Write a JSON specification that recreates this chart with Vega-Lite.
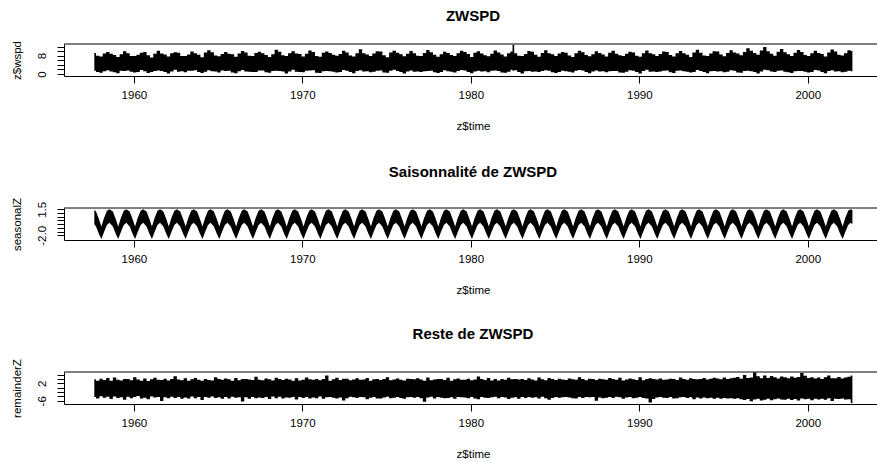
{
  "$schema": "https://vega.github.io/schema/vega-lite/v6.json",
  "padding": {"left": 10, "top": 8, "right": 0, "bottom": 0},
  "datasets": {
    "wspd": [
      {"t":1957.65,"lo":1.4,"hi":9.2},{"t":1957.85,"lo":0.9,"hi":8.0},{"t":1958.05,"lo":0.5,"hi":7.6},{"t":1958.25,"lo":1.2,"hi":8.9},{"t":1958.45,"lo":1.6,"hi":9.6},
      {"t":1958.65,"lo":1.1,"hi":8.8},{"t":1958.85,"lo":0.7,"hi":8.3},{"t":1959.05,"lo":0.3,"hi":7.4},{"t":1959.25,"lo":1.4,"hi":8.6},{"t":1959.45,"lo":1.3,"hi":9.9},
      {"t":1959.65,"lo":1.5,"hi":9.1},{"t":1959.85,"lo":1.0,"hi":7.9},{"t":1960.05,"lo":0.6,"hi":7.8},{"t":1960.25,"lo":0.9,"hi":8.4},{"t":1960.45,"lo":1.7,"hi":9.3},
      {"t":1960.65,"lo":1.2,"hi":9.6},{"t":1960.85,"lo":0.4,"hi":8.2},{"t":1961.05,"lo":0.8,"hi":7.2},{"t":1961.25,"lo":1.3,"hi":8.8},{"t":1961.45,"lo":1.5,"hi":10.2},
      {"t":1961.65,"lo":1.3,"hi":8.9},{"t":1961.85,"lo":0.9,"hi":8.5},{"t":1962.05,"lo":0.2,"hi":7.6},{"t":1962.25,"lo":1.1,"hi":9.1},{"t":1962.45,"lo":1.8,"hi":9.5},
      {"t":1962.65,"lo":1.0,"hi":9.3},{"t":1962.85,"lo":1.2,"hi":7.8},{"t":1963.05,"lo":0.7,"hi":7.9},{"t":1963.25,"lo":1.4,"hi":8.5},{"t":1963.45,"lo":1.4,"hi":9.8},
      {"t":1963.65,"lo":1.6,"hi":9.0},{"t":1963.85,"lo":0.8,"hi":8.4},{"t":1964.05,"lo":0.4,"hi":7.3},{"t":1964.25,"lo":1.0,"hi":9.4},{"t":1964.45,"lo":1.6,"hi":10.4},
      {"t":1964.65,"lo":1.2,"hi":9.5},{"t":1964.85,"lo":1.1,"hi":8.1},{"t":1965.05,"lo":0.6,"hi":7.7},{"t":1965.25,"lo":1.5,"hi":8.7},{"t":1965.45,"lo":1.3,"hi":9.6},
      {"t":1965.65,"lo":1.4,"hi":8.8},{"t":1965.85,"lo":0.6,"hi":8.6},{"t":1966.05,"lo":0.3,"hi":7.5},{"t":1966.25,"lo":1.2,"hi":8.9},{"t":1966.45,"lo":1.7,"hi":10.0},
      {"t":1966.65,"lo":1.1,"hi":9.4},{"t":1966.85,"lo":1.0,"hi":8.0},{"t":1967.05,"lo":0.8,"hi":7.8},{"t":1967.25,"lo":0.9,"hi":9.2},{"t":1967.45,"lo":1.5,"hi":9.7},
      {"t":1967.65,"lo":1.5,"hi":9.1},{"t":1967.85,"lo":0.7,"hi":8.3},{"t":1968.05,"lo":0.5,"hi":7.4},{"t":1968.25,"lo":1.3,"hi":8.6},{"t":1968.45,"lo":1.4,"hi":10.6},
      {"t":1968.65,"lo":1.3,"hi":9.7},{"t":1968.85,"lo":1.1,"hi":8.2},{"t":1969.05,"lo":0.2,"hi":7.9},{"t":1969.25,"lo":1.1,"hi":9.0},{"t":1969.45,"lo":1.8,"hi":9.9},
      {"t":1969.65,"lo":1.0,"hi":8.9},{"t":1969.85,"lo":0.9,"hi":8.7},{"t":1970.05,"lo":0.7,"hi":7.6},{"t":1970.25,"lo":1.4,"hi":8.8},{"t":1970.45,"lo":1.5,"hi":10.3},
      {"t":1970.65,"lo":1.6,"hi":9.6},{"t":1970.85,"lo":0.5,"hi":7.9},{"t":1971.05,"lo":0.4,"hi":7.5},{"t":1971.25,"lo":1.2,"hi":9.3},{"t":1971.45,"lo":1.3,"hi":9.8},
      {"t":1971.65,"lo":1.2,"hi":9.2},{"t":1971.85,"lo":1.0,"hi":8.4},{"t":1972.05,"lo":0.6,"hi":8.0},{"t":1972.25,"lo":0.8,"hi":8.7},{"t":1972.45,"lo":1.7,"hi":10.1},
      {"t":1972.65,"lo":1.4,"hi":9.4},{"t":1972.85,"lo":0.8,"hi":8.1},{"t":1973.05,"lo":0.3,"hi":7.6},{"t":1973.25,"lo":1.3,"hi":9.1},{"t":1973.45,"lo":1.6,"hi":10.8},
      {"t":1973.65,"lo":1.1,"hi":9.0},{"t":1973.85,"lo":1.2,"hi":8.5},{"t":1974.05,"lo":0.7,"hi":7.8},{"t":1974.25,"lo":1.0,"hi":8.9},{"t":1974.45,"lo":1.4,"hi":9.9},
      {"t":1974.65,"lo":1.5,"hi":9.8},{"t":1974.85,"lo":0.6,"hi":8.2},{"t":1975.05,"lo":0.5,"hi":7.3},{"t":1975.25,"lo":1.4,"hi":9.4},{"t":1975.45,"lo":1.8,"hi":10.2},
      {"t":1975.65,"lo":1.3,"hi":9.3},{"t":1975.85,"lo":0.9,"hi":8.6},{"t":1976.05,"lo":0.2,"hi":7.7},{"t":1976.25,"lo":1.1,"hi":8.8},{"t":1976.45,"lo":1.5,"hi":10.0},
      {"t":1976.65,"lo":1.0,"hi":9.1},{"t":1976.85,"lo":1.1,"hi":8.0},{"t":1977.05,"lo":0.8,"hi":7.9},{"t":1977.25,"lo":1.2,"hi":9.2},{"t":1977.45,"lo":1.3,"hi":10.5},
      {"t":1977.65,"lo":1.4,"hi":9.5},{"t":1977.85,"lo":0.7,"hi":8.4},{"t":1978.05,"lo":0.4,"hi":7.5},{"t":1978.25,"lo":0.9,"hi":8.6},{"t":1978.45,"lo":1.6,"hi":9.7},
      {"t":1978.65,"lo":1.2,"hi":9.2},{"t":1978.85,"lo":1.0,"hi":8.3},{"t":1979.05,"lo":0.6,"hi":7.8},{"t":1979.25,"lo":1.3,"hi":9.0},{"t":1979.45,"lo":1.7,"hi":10.1},
      {"t":1979.65,"lo":1.5,"hi":9.6},{"t":1979.85,"lo":0.8,"hi":8.7},{"t":1980.05,"lo":0.3,"hi":7.4},{"t":1980.25,"lo":1.1,"hi":9.3},{"t":1980.45,"lo":1.4,"hi":9.9},
      {"t":1980.65,"lo":1.1,"hi":8.9},{"t":1980.85,"lo":1.2,"hi":8.2},{"t":1981.05,"lo":0.7,"hi":7.7},{"t":1981.25,"lo":1.4,"hi":8.8},{"t":1981.45,"lo":1.5,"hi":10.3},
      {"t":1981.65,"lo":1.3,"hi":9.4},{"t":1981.85,"lo":0.6,"hi":8.5},{"t":1982.05,"lo":0.5,"hi":7.6},{"t":1982.25,"lo":1.0,"hi":9.1},{"t":1982.45,"lo":1.8,"hi":9.8},
      {"t":1982.5,"lo":1.4,"hi":12.8},
      {"t":1982.65,"lo":1.6,"hi":9.1},{"t":1982.85,"lo":0.9,"hi":8.0},{"t":1983.05,"lo":0.2,"hi":7.9},{"t":1983.25,"lo":1.2,"hi":8.7},{"t":1983.45,"lo":1.3,"hi":10.0},
      {"t":1983.65,"lo":1.0,"hi":9.7},{"t":1983.85,"lo":1.1,"hi":8.4},{"t":1984.05,"lo":0.8,"hi":7.5},{"t":1984.25,"lo":1.3,"hi":9.2},{"t":1984.45,"lo":1.6,"hi":10.4},
      {"t":1984.65,"lo":1.4,"hi":9.0},{"t":1984.85,"lo":0.7,"hi":8.6},{"t":1985.05,"lo":0.4,"hi":7.8},{"t":1985.25,"lo":0.9,"hi":8.9},{"t":1985.45,"lo":1.4,"hi":9.6},
      {"t":1985.65,"lo":1.2,"hi":9.3},{"t":1985.85,"lo":1.0,"hi":8.1},{"t":1986.05,"lo":0.6,"hi":7.4},{"t":1986.25,"lo":1.4,"hi":9.0},{"t":1986.45,"lo":1.7,"hi":10.2},
      {"t":1986.65,"lo":1.5,"hi":9.5},{"t":1986.85,"lo":0.8,"hi":8.3},{"t":1987.05,"lo":0.3,"hi":7.7},{"t":1987.25,"lo":1.1,"hi":8.6},{"t":1987.45,"lo":1.5,"hi":9.9},
      {"t":1987.65,"lo":1.1,"hi":9.2},{"t":1987.85,"lo":1.2,"hi":8.5},{"t":1988.05,"lo":0.7,"hi":7.6},{"t":1988.25,"lo":1.2,"hi":9.3},{"t":1988.45,"lo":1.3,"hi":10.1},
      {"t":1988.65,"lo":1.3,"hi":8.8},{"t":1988.85,"lo":0.6,"hi":8.2},{"t":1989.05,"lo":0.5,"hi":7.9},{"t":1989.25,"lo":1.0,"hi":8.8},{"t":1989.45,"lo":1.6,"hi":9.7},
      {"t":1989.65,"lo":1.4,"hi":9.4},{"t":1989.85,"lo":0.9,"hi":8.0},{"t":1990.05,"lo":0.2,"hi":7.5},{"t":1990.25,"lo":1.3,"hi":9.1},{"t":1990.45,"lo":1.8,"hi":10.3},
      {"t":1990.65,"lo":1.0,"hi":9.1},{"t":1990.85,"lo":1.1,"hi":8.6},{"t":1991.05,"lo":0.8,"hi":7.8},{"t":1991.25,"lo":1.1,"hi":8.7},{"t":1991.45,"lo":1.4,"hi":9.8},
      {"t":1991.65,"lo":1.5,"hi":9.6},{"t":1991.85,"lo":0.7,"hi":8.3},{"t":1992.05,"lo":0.4,"hi":7.6},{"t":1992.25,"lo":1.4,"hi":9.0},{"t":1992.45,"lo":1.5,"hi":10.0},
      {"t":1992.65,"lo":1.2,"hi":9.0},{"t":1992.85,"lo":1.0,"hi":8.4},{"t":1993.05,"lo":0.6,"hi":7.4},{"t":1993.25,"lo":0.9,"hi":9.4},{"t":1993.45,"lo":1.7,"hi":10.6},
      {"t":1993.65,"lo":1.3,"hi":9.3},{"t":1993.85,"lo":0.8,"hi":8.1},{"t":1994.05,"lo":0.3,"hi":7.9},{"t":1994.25,"lo":1.2,"hi":8.9},{"t":1994.45,"lo":1.3,"hi":9.9},
      {"t":1994.65,"lo":1.1,"hi":9.8},{"t":1994.85,"lo":1.2,"hi":8.5},{"t":1995.05,"lo":0.7,"hi":7.7},{"t":1995.25,"lo":1.0,"hi":9.2},{"t":1995.45,"lo":1.6,"hi":10.4},
      {"t":1995.65,"lo":1.4,"hi":9.4},{"t":1995.85,"lo":0.6,"hi":8.9},{"t":1996.05,"lo":0.5,"hi":8.2},{"t":1996.25,"lo":1.3,"hi":9.6},{"t":1996.45,"lo":1.4,"hi":11.2},
      {"t":1996.65,"lo":1.2,"hi":10.1},{"t":1996.85,"lo":0.9,"hi":9.2},{"t":1997.05,"lo":0.2,"hi":8.4},{"t":1997.25,"lo":1.1,"hi":10.3},{"t":1997.45,"lo":1.8,"hi":11.8},
      {"t":1997.65,"lo":1.6,"hi":9.9},{"t":1997.85,"lo":1.1,"hi":8.8},{"t":1998.05,"lo":0.8,"hi":8.0},{"t":1998.25,"lo":1.4,"hi":9.7},{"t":1998.45,"lo":1.5,"hi":10.9},
      {"t":1998.65,"lo":1.0,"hi":9.5},{"t":1998.85,"lo":0.7,"hi":8.6},{"t":1999.05,"lo":0.4,"hi":7.8},{"t":1999.25,"lo":1.2,"hi":9.3},{"t":1999.45,"lo":1.3,"hi":10.5},
      {"t":1999.65,"lo":1.3,"hi":9.6},{"t":1999.85,"lo":1.0,"hi":8.3},{"t":2000.05,"lo":0.6,"hi":7.9},{"t":2000.25,"lo":0.9,"hi":9.0},{"t":2000.45,"lo":1.7,"hi":10.2},
      {"t":2000.65,"lo":1.5,"hi":9.2},{"t":2000.85,"lo":0.8,"hi":8.7},{"t":2001.05,"lo":0.3,"hi":7.6},{"t":2001.25,"lo":1.3,"hi":9.4},{"t":2001.45,"lo":1.6,"hi":10.7},
      {"t":2001.65,"lo":1.1,"hi":9.8},{"t":2001.85,"lo":1.2,"hi":8.4},{"t":2002.05,"lo":0.7,"hi":8.1},{"t":2002.25,"lo":1.0,"hi":9.1},{"t":2002.45,"lo":1.4,"hi":10.4},
      {"t":2002.65,"lo":1.2,"hi":10.0}
    ],
    "seasonal": [
      {"t":1957.65,"lo":-0.5,"hi":1.4},{"t":1957.75,"lo":-0.8,"hi":1.2},{"t":1957.92,"lo":-1.8,"hi":0.2},
      {"t":1958.07,"lo":-2.5,"hi":-0.8},{"t":1958.22,"lo":-1.6,"hi":0.3},{"t":1958.4,"lo":-0.6,"hi":1.3},{"t":1958.55,"lo":-0.3,"hi":1.5},{"t":1958.75,"lo":-0.8,"hi":1.2},{"t":1958.92,"lo":-1.8,"hi":0.2},
      {"t":1959.07,"lo":-2.5,"hi":-0.8},{"t":1959.22,"lo":-1.6,"hi":0.3},{"t":1959.4,"lo":-0.6,"hi":1.3},{"t":1959.55,"lo":-0.3,"hi":1.5},{"t":1959.75,"lo":-0.8,"hi":1.2},{"t":1959.92,"lo":-1.8,"hi":0.2},
      {"t":1960.07,"lo":-2.5,"hi":-0.8},{"t":1960.22,"lo":-1.6,"hi":0.3},{"t":1960.4,"lo":-0.6,"hi":1.3},{"t":1960.55,"lo":-0.3,"hi":1.5},{"t":1960.75,"lo":-0.8,"hi":1.2},{"t":1960.92,"lo":-1.8,"hi":0.2},
      {"t":1961.07,"lo":-2.5,"hi":-0.8},{"t":1961.22,"lo":-1.6,"hi":0.3},{"t":1961.4,"lo":-0.6,"hi":1.3},{"t":1961.55,"lo":-0.3,"hi":1.5},{"t":1961.75,"lo":-0.8,"hi":1.2},{"t":1961.92,"lo":-1.8,"hi":0.2},
      {"t":1962.07,"lo":-2.5,"hi":-0.8},{"t":1962.22,"lo":-1.6,"hi":0.3},{"t":1962.4,"lo":-0.6,"hi":1.3},{"t":1962.55,"lo":-0.3,"hi":1.5},{"t":1962.75,"lo":-0.8,"hi":1.2},{"t":1962.92,"lo":-1.8,"hi":0.2},
      {"t":1963.07,"lo":-2.5,"hi":-0.8},{"t":1963.22,"lo":-1.6,"hi":0.3},{"t":1963.4,"lo":-0.6,"hi":1.3},{"t":1963.55,"lo":-0.3,"hi":1.5},{"t":1963.75,"lo":-0.8,"hi":1.2},{"t":1963.92,"lo":-1.8,"hi":0.2},
      {"t":1964.07,"lo":-2.5,"hi":-0.8},{"t":1964.22,"lo":-1.6,"hi":0.3},{"t":1964.4,"lo":-0.6,"hi":1.3},{"t":1964.55,"lo":-0.3,"hi":1.5},{"t":1964.75,"lo":-0.8,"hi":1.2},{"t":1964.92,"lo":-1.8,"hi":0.2},
      {"t":1965.07,"lo":-2.5,"hi":-0.8},{"t":1965.22,"lo":-1.6,"hi":0.3},{"t":1965.4,"lo":-0.6,"hi":1.3},{"t":1965.55,"lo":-0.3,"hi":1.5},{"t":1965.75,"lo":-0.8,"hi":1.2},{"t":1965.92,"lo":-1.8,"hi":0.2},
      {"t":1966.07,"lo":-2.5,"hi":-0.8},{"t":1966.22,"lo":-1.6,"hi":0.3},{"t":1966.4,"lo":-0.6,"hi":1.3},{"t":1966.55,"lo":-0.3,"hi":1.5},{"t":1966.75,"lo":-0.8,"hi":1.2},{"t":1966.92,"lo":-1.8,"hi":0.2},
      {"t":1967.07,"lo":-2.5,"hi":-0.8},{"t":1967.22,"lo":-1.6,"hi":0.3},{"t":1967.4,"lo":-0.6,"hi":1.3},{"t":1967.55,"lo":-0.3,"hi":1.5},{"t":1967.75,"lo":-0.8,"hi":1.2},{"t":1967.92,"lo":-1.8,"hi":0.2},
      {"t":1968.07,"lo":-2.5,"hi":-0.8},{"t":1968.22,"lo":-1.6,"hi":0.3},{"t":1968.4,"lo":-0.6,"hi":1.3},{"t":1968.55,"lo":-0.3,"hi":1.5},{"t":1968.75,"lo":-0.8,"hi":1.2},{"t":1968.92,"lo":-1.8,"hi":0.2},
      {"t":1969.07,"lo":-2.5,"hi":-0.8},{"t":1969.22,"lo":-1.6,"hi":0.3},{"t":1969.4,"lo":-0.6,"hi":1.3},{"t":1969.55,"lo":-0.3,"hi":1.5},{"t":1969.75,"lo":-0.8,"hi":1.2},{"t":1969.92,"lo":-1.8,"hi":0.2},
      {"t":1970.07,"lo":-2.5,"hi":-0.8},{"t":1970.22,"lo":-1.6,"hi":0.3},{"t":1970.4,"lo":-0.6,"hi":1.3},{"t":1970.55,"lo":-0.3,"hi":1.5},{"t":1970.75,"lo":-0.8,"hi":1.2},{"t":1970.92,"lo":-1.8,"hi":0.2},
      {"t":1971.07,"lo":-2.5,"hi":-0.8},{"t":1971.22,"lo":-1.6,"hi":0.3},{"t":1971.4,"lo":-0.6,"hi":1.3},{"t":1971.55,"lo":-0.3,"hi":1.5},{"t":1971.75,"lo":-0.8,"hi":1.2},{"t":1971.92,"lo":-1.8,"hi":0.2},
      {"t":1972.07,"lo":-2.5,"hi":-0.8},{"t":1972.22,"lo":-1.6,"hi":0.3},{"t":1972.4,"lo":-0.6,"hi":1.3},{"t":1972.55,"lo":-0.3,"hi":1.5},{"t":1972.75,"lo":-0.8,"hi":1.2},{"t":1972.92,"lo":-1.8,"hi":0.2},
      {"t":1973.07,"lo":-2.5,"hi":-0.8},{"t":1973.22,"lo":-1.6,"hi":0.3},{"t":1973.4,"lo":-0.6,"hi":1.3},{"t":1973.55,"lo":-0.3,"hi":1.5},{"t":1973.75,"lo":-0.8,"hi":1.2},{"t":1973.92,"lo":-1.8,"hi":0.2},
      {"t":1974.07,"lo":-2.5,"hi":-0.8},{"t":1974.22,"lo":-1.6,"hi":0.3},{"t":1974.4,"lo":-0.6,"hi":1.3},{"t":1974.55,"lo":-0.3,"hi":1.5},{"t":1974.75,"lo":-0.8,"hi":1.2},{"t":1974.92,"lo":-1.8,"hi":0.2},
      {"t":1975.07,"lo":-2.5,"hi":-0.8},{"t":1975.22,"lo":-1.6,"hi":0.3},{"t":1975.4,"lo":-0.6,"hi":1.3},{"t":1975.55,"lo":-0.3,"hi":1.5},{"t":1975.75,"lo":-0.8,"hi":1.2},{"t":1975.92,"lo":-1.8,"hi":0.2},
      {"t":1976.07,"lo":-2.5,"hi":-0.8},{"t":1976.22,"lo":-1.6,"hi":0.3},{"t":1976.4,"lo":-0.6,"hi":1.3},{"t":1976.55,"lo":-0.3,"hi":1.5},{"t":1976.75,"lo":-0.8,"hi":1.2},{"t":1976.92,"lo":-1.8,"hi":0.2},
      {"t":1977.07,"lo":-2.5,"hi":-0.8},{"t":1977.22,"lo":-1.6,"hi":0.3},{"t":1977.4,"lo":-0.6,"hi":1.3},{"t":1977.55,"lo":-0.3,"hi":1.5},{"t":1977.75,"lo":-0.8,"hi":1.2},{"t":1977.92,"lo":-1.8,"hi":0.2},
      {"t":1978.07,"lo":-2.5,"hi":-0.8},{"t":1978.22,"lo":-1.6,"hi":0.3},{"t":1978.4,"lo":-0.6,"hi":1.3},{"t":1978.55,"lo":-0.3,"hi":1.5},{"t":1978.75,"lo":-0.8,"hi":1.2},{"t":1978.92,"lo":-1.8,"hi":0.2},
      {"t":1979.07,"lo":-2.5,"hi":-0.8},{"t":1979.22,"lo":-1.6,"hi":0.3},{"t":1979.4,"lo":-0.6,"hi":1.3},{"t":1979.55,"lo":-0.3,"hi":1.5},{"t":1979.75,"lo":-0.8,"hi":1.2},{"t":1979.92,"lo":-1.8,"hi":0.2},
      {"t":1980.07,"lo":-2.5,"hi":-0.8},{"t":1980.22,"lo":-1.6,"hi":0.3},{"t":1980.4,"lo":-0.6,"hi":1.3},{"t":1980.55,"lo":-0.3,"hi":1.5},{"t":1980.75,"lo":-0.8,"hi":1.2},{"t":1980.92,"lo":-1.8,"hi":0.2},
      {"t":1981.07,"lo":-2.5,"hi":-0.8},{"t":1981.22,"lo":-1.6,"hi":0.3},{"t":1981.4,"lo":-0.6,"hi":1.3},{"t":1981.55,"lo":-0.3,"hi":1.5},{"t":1981.75,"lo":-0.8,"hi":1.2},{"t":1981.92,"lo":-1.8,"hi":0.2},
      {"t":1982.07,"lo":-2.5,"hi":-0.8},{"t":1982.22,"lo":-1.6,"hi":0.3},{"t":1982.4,"lo":-0.6,"hi":1.3},{"t":1982.55,"lo":-0.3,"hi":1.5},{"t":1982.75,"lo":-0.8,"hi":1.2},{"t":1982.92,"lo":-1.8,"hi":0.2},
      {"t":1983.07,"lo":-2.5,"hi":-0.8},{"t":1983.22,"lo":-1.6,"hi":0.3},{"t":1983.4,"lo":-0.6,"hi":1.3},{"t":1983.55,"lo":-0.3,"hi":1.5},{"t":1983.75,"lo":-0.8,"hi":1.2},{"t":1983.92,"lo":-1.8,"hi":0.2},
      {"t":1984.07,"lo":-2.5,"hi":-0.8},{"t":1984.22,"lo":-1.6,"hi":0.3},{"t":1984.4,"lo":-0.6,"hi":1.3},{"t":1984.55,"lo":-0.3,"hi":1.5},{"t":1984.75,"lo":-0.8,"hi":1.2},{"t":1984.92,"lo":-1.8,"hi":0.2},
      {"t":1985.07,"lo":-2.5,"hi":-0.8},{"t":1985.22,"lo":-1.6,"hi":0.3},{"t":1985.4,"lo":-0.6,"hi":1.3},{"t":1985.55,"lo":-0.3,"hi":1.5},{"t":1985.75,"lo":-0.8,"hi":1.2},{"t":1985.92,"lo":-1.8,"hi":0.2},
      {"t":1986.07,"lo":-2.5,"hi":-0.8},{"t":1986.22,"lo":-1.6,"hi":0.3},{"t":1986.4,"lo":-0.6,"hi":1.3},{"t":1986.55,"lo":-0.3,"hi":1.5},{"t":1986.75,"lo":-0.8,"hi":1.2},{"t":1986.92,"lo":-1.8,"hi":0.2},
      {"t":1987.07,"lo":-2.5,"hi":-0.8},{"t":1987.22,"lo":-1.6,"hi":0.3},{"t":1987.4,"lo":-0.6,"hi":1.3},{"t":1987.55,"lo":-0.3,"hi":1.5},{"t":1987.75,"lo":-0.8,"hi":1.2},{"t":1987.92,"lo":-1.8,"hi":0.2},
      {"t":1988.07,"lo":-2.5,"hi":-0.8},{"t":1988.22,"lo":-1.6,"hi":0.3},{"t":1988.4,"lo":-0.6,"hi":1.3},{"t":1988.55,"lo":-0.3,"hi":1.5},{"t":1988.75,"lo":-0.8,"hi":1.2},{"t":1988.92,"lo":-1.8,"hi":0.2},
      {"t":1989.07,"lo":-2.5,"hi":-0.8},{"t":1989.22,"lo":-1.6,"hi":0.3},{"t":1989.4,"lo":-0.6,"hi":1.3},{"t":1989.55,"lo":-0.3,"hi":1.5},{"t":1989.75,"lo":-0.8,"hi":1.2},{"t":1989.92,"lo":-1.8,"hi":0.2},
      {"t":1990.07,"lo":-2.5,"hi":-0.8},{"t":1990.22,"lo":-1.6,"hi":0.3},{"t":1990.4,"lo":-0.6,"hi":1.3},{"t":1990.55,"lo":-0.3,"hi":1.5},{"t":1990.75,"lo":-0.8,"hi":1.2},{"t":1990.92,"lo":-1.8,"hi":0.2},
      {"t":1991.07,"lo":-2.5,"hi":-0.8},{"t":1991.22,"lo":-1.6,"hi":0.3},{"t":1991.4,"lo":-0.6,"hi":1.3},{"t":1991.55,"lo":-0.3,"hi":1.5},{"t":1991.75,"lo":-0.8,"hi":1.2},{"t":1991.92,"lo":-1.8,"hi":0.2},
      {"t":1992.07,"lo":-2.5,"hi":-0.8},{"t":1992.22,"lo":-1.6,"hi":0.3},{"t":1992.4,"lo":-0.6,"hi":1.3},{"t":1992.55,"lo":-0.3,"hi":1.5},{"t":1992.75,"lo":-0.8,"hi":1.2},{"t":1992.92,"lo":-1.8,"hi":0.2},
      {"t":1993.07,"lo":-2.5,"hi":-0.8},{"t":1993.22,"lo":-1.6,"hi":0.3},{"t":1993.4,"lo":-0.6,"hi":1.3},{"t":1993.55,"lo":-0.3,"hi":1.5},{"t":1993.75,"lo":-0.8,"hi":1.2},{"t":1993.92,"lo":-1.8,"hi":0.2},
      {"t":1994.07,"lo":-2.5,"hi":-0.8},{"t":1994.22,"lo":-1.6,"hi":0.3},{"t":1994.4,"lo":-0.6,"hi":1.3},{"t":1994.55,"lo":-0.3,"hi":1.5},{"t":1994.75,"lo":-0.8,"hi":1.2},{"t":1994.92,"lo":-1.8,"hi":0.2},
      {"t":1995.07,"lo":-2.5,"hi":-0.8},{"t":1995.22,"lo":-1.6,"hi":0.3},{"t":1995.4,"lo":-0.6,"hi":1.3},{"t":1995.55,"lo":-0.3,"hi":1.5},{"t":1995.75,"lo":-0.8,"hi":1.2},{"t":1995.92,"lo":-1.8,"hi":0.2},
      {"t":1996.07,"lo":-2.5,"hi":-0.8},{"t":1996.22,"lo":-1.6,"hi":0.3},{"t":1996.4,"lo":-0.6,"hi":1.3},{"t":1996.55,"lo":-0.3,"hi":1.5},{"t":1996.75,"lo":-0.8,"hi":1.2},{"t":1996.92,"lo":-1.8,"hi":0.2},
      {"t":1997.07,"lo":-2.5,"hi":-0.8},{"t":1997.22,"lo":-1.6,"hi":0.3},{"t":1997.4,"lo":-0.6,"hi":1.3},{"t":1997.55,"lo":-0.3,"hi":1.5},{"t":1997.75,"lo":-0.8,"hi":1.2},{"t":1997.92,"lo":-1.8,"hi":0.2},
      {"t":1998.07,"lo":-2.5,"hi":-0.8},{"t":1998.22,"lo":-1.6,"hi":0.3},{"t":1998.4,"lo":-0.6,"hi":1.3},{"t":1998.55,"lo":-0.3,"hi":1.5},{"t":1998.75,"lo":-0.8,"hi":1.2},{"t":1998.92,"lo":-1.8,"hi":0.2},
      {"t":1999.07,"lo":-2.5,"hi":-0.8},{"t":1999.22,"lo":-1.6,"hi":0.3},{"t":1999.4,"lo":-0.6,"hi":1.3},{"t":1999.55,"lo":-0.3,"hi":1.5},{"t":1999.75,"lo":-0.8,"hi":1.2},{"t":1999.92,"lo":-1.8,"hi":0.2},
      {"t":2000.07,"lo":-2.5,"hi":-0.8},{"t":2000.22,"lo":-1.6,"hi":0.3},{"t":2000.4,"lo":-0.6,"hi":1.3},{"t":2000.55,"lo":-0.3,"hi":1.5},{"t":2000.75,"lo":-0.8,"hi":1.2},{"t":2000.92,"lo":-1.8,"hi":0.2},
      {"t":2001.07,"lo":-2.5,"hi":-0.8},{"t":2001.22,"lo":-1.6,"hi":0.3},{"t":2001.4,"lo":-0.6,"hi":1.3},{"t":2001.55,"lo":-0.3,"hi":1.5},{"t":2001.75,"lo":-0.8,"hi":1.2},{"t":2001.92,"lo":-1.8,"hi":0.2},
      {"t":2002.07,"lo":-2.5,"hi":-0.8},{"t":2002.22,"lo":-1.6,"hi":0.3},{"t":2002.4,"lo":-0.6,"hi":1.3},{"t":2002.55,"lo":-0.3,"hi":1.5},{"t":2002.65,"lo":-0.5,"hi":1.4}
    ],
    "remainder": [
      {"t":1957.65,"lo":-4.3,"hi":3.8},{"t":1957.85,"lo":-4.9,"hi":3.2},{"t":1958.05,"lo":-3.9,"hi":4.1},{"t":1958.25,"lo":-4.6,"hi":3.5},{"t":1958.45,"lo":-4.1,"hi":4.4},
      {"t":1958.65,"lo":-5.2,"hi":3.1},{"t":1958.85,"lo":-4.0,"hi":4.6},{"t":1959.05,"lo":-4.7,"hi":3.6},{"t":1959.25,"lo":-4.4,"hi":3.3},{"t":1959.45,"lo":-5.5,"hi":4.0},
      {"t":1959.65,"lo":-4.1,"hi":3.9},{"t":1959.85,"lo":-4.8,"hi":3.4},{"t":1960.05,"lo":-4.3,"hi":4.8},{"t":1960.25,"lo":-3.8,"hi":3.7},{"t":1960.45,"lo":-4.9,"hi":3.2},
      {"t":1960.65,"lo":-4.6,"hi":4.2},{"t":1960.85,"lo":-5.3,"hi":3.0},{"t":1961.05,"lo":-4.0,"hi":3.8},{"t":1961.25,"lo":-4.5,"hi":4.5},{"t":1961.45,"lo":-4.2,"hi":3.6},
      {"t":1961.65,"lo":-6.1,"hi":3.5},{"t":1961.85,"lo":-4.4,"hi":4.1},{"t":1962.05,"lo":-4.8,"hi":3.3},{"t":1962.25,"lo":-4.1,"hi":3.9},{"t":1962.45,"lo":-4.7,"hi":5.2},
      {"t":1962.65,"lo":-4.2,"hi":3.7},{"t":1962.85,"lo":-5.0,"hi":3.4},{"t":1963.05,"lo":-4.5,"hi":4.3},{"t":1963.25,"lo":-4.9,"hi":3.1},{"t":1963.45,"lo":-4.0,"hi":3.8},
      {"t":1963.65,"lo":-4.8,"hi":4.4},{"t":1963.85,"lo":-4.3,"hi":3.6},{"t":1964.05,"lo":-5.6,"hi":3.2},{"t":1964.25,"lo":-4.2,"hi":4.0},{"t":1964.45,"lo":-4.6,"hi":3.5},
      {"t":1964.65,"lo":-4.0,"hi":3.3},{"t":1964.85,"lo":-4.7,"hi":4.7},{"t":1965.05,"lo":-4.4,"hi":3.9},{"t":1965.25,"lo":-5.1,"hi":3.6},{"t":1965.45,"lo":-4.3,"hi":4.2},
      {"t":1965.65,"lo":-4.9,"hi":3.8},{"t":1965.85,"lo":-4.1,"hi":3.1},{"t":1966.05,"lo":-4.6,"hi":4.4},{"t":1966.25,"lo":-4.4,"hi":3.4},{"t":1966.45,"lo":-6.3,"hi":3.9},
      {"t":1966.65,"lo":-4.4,"hi":4.0},{"t":1966.85,"lo":-5.0,"hi":3.7},{"t":1967.05,"lo":-4.2,"hi":3.5},{"t":1967.25,"lo":-4.8,"hi":5.0},{"t":1967.45,"lo":-4.5,"hi":3.6},
      {"t":1967.65,"lo":-4.7,"hi":3.4},{"t":1967.85,"lo":-4.3,"hi":4.2},{"t":1968.05,"lo":-5.2,"hi":3.8},{"t":1968.25,"lo":-4.0,"hi":3.3},{"t":1968.45,"lo":-4.8,"hi":4.5},
      {"t":1968.65,"lo":-4.1,"hi":3.9},{"t":1968.85,"lo":-4.9,"hi":3.5},{"t":1969.05,"lo":-4.5,"hi":4.1},{"t":1969.25,"lo":-4.6,"hi":3.7},{"t":1969.45,"lo":-4.2,"hi":3.2},
      {"t":1969.65,"lo":-5.4,"hi":4.3},{"t":1969.85,"lo":-4.2,"hi":3.3},{"t":1970.05,"lo":-4.7,"hi":3.6},{"t":1970.25,"lo":-4.3,"hi":4.6},{"t":1970.45,"lo":-4.9,"hi":3.8},
      {"t":1970.65,"lo":-4.5,"hi":3.6},{"t":1970.85,"lo":-4.8,"hi":4.0},{"t":1971.05,"lo":-4.0,"hi":3.4},{"t":1971.25,"lo":-5.0,"hi":3.9},{"t":1971.45,"lo":-4.4,"hi":5.5},
      {"t":1971.65,"lo":-4.2,"hi":3.2},{"t":1971.85,"lo":-4.6,"hi":3.8},{"t":1972.05,"lo":-4.9,"hi":4.5},{"t":1972.25,"lo":-4.5,"hi":3.5},{"t":1972.45,"lo":-5.8,"hi":4.1},
      {"t":1972.65,"lo":-4.8,"hi":4.1},{"t":1972.85,"lo":-4.1,"hi":3.4},{"t":1973.05,"lo":-4.4,"hi":3.7},{"t":1973.25,"lo":-4.7,"hi":4.3},{"t":1973.45,"lo":-4.3,"hi":3.6},
      {"t":1973.65,"lo":-4.4,"hi":3.7},{"t":1973.85,"lo":-5.3,"hi":4.4},{"t":1974.05,"lo":-4.6,"hi":3.2},{"t":1974.25,"lo":-4.2,"hi":3.8},{"t":1974.45,"lo":-4.9,"hi":4.0},
      {"t":1974.65,"lo":-4.9,"hi":3.5},{"t":1974.85,"lo":-4.5,"hi":3.9},{"t":1975.05,"lo":-4.1,"hi":4.8},{"t":1975.25,"lo":-4.8,"hi":3.4},{"t":1975.45,"lo":-4.6,"hi":3.7},
      {"t":1975.65,"lo":-4.3,"hi":4.2},{"t":1975.85,"lo":-4.7,"hi":3.6},{"t":1976.05,"lo":-5.1,"hi":3.3},{"t":1976.25,"lo":-4.4,"hi":4.1},{"t":1976.45,"lo":-4.2,"hi":3.9},
      {"t":1976.65,"lo":-4.6,"hi":3.8},{"t":1976.85,"lo":-4.2,"hi":4.3},{"t":1977.05,"lo":-4.8,"hi":3.7},{"t":1977.25,"lo":-6.4,"hi":3.2},{"t":1977.45,"lo":-4.5,"hi":4.6},
      {"t":1977.65,"lo":-4.1,"hi":3.4},{"t":1977.85,"lo":-4.9,"hi":3.7},{"t":1978.05,"lo":-4.3,"hi":4.0},{"t":1978.25,"lo":-4.6,"hi":3.9},{"t":1978.45,"lo":-4.8,"hi":3.5},
      {"t":1978.65,"lo":-4.7,"hi":4.5},{"t":1978.85,"lo":-4.4,"hi":3.2},{"t":1979.05,"lo":-5.0,"hi":3.8},{"t":1979.25,"lo":-4.2,"hi":4.2},{"t":1979.45,"lo":-4.4,"hi":3.6},
      {"t":1979.65,"lo":-4.5,"hi":3.6},{"t":1979.85,"lo":-4.8,"hi":4.1},{"t":1980.05,"lo":-4.2,"hi":3.4},{"t":1980.25,"lo":-4.9,"hi":3.7},{"t":1980.45,"lo":-5.3,"hi":5.1},
      {"t":1980.65,"lo":-4.2,"hi":3.9},{"t":1980.85,"lo":-4.6,"hi":3.5},{"t":1981.05,"lo":-4.7,"hi":4.4},{"t":1981.25,"lo":-4.4,"hi":3.3},{"t":1981.45,"lo":-4.1,"hi":4.0},
      {"t":1981.65,"lo":-4.8,"hi":3.3},{"t":1981.85,"lo":-4.3,"hi":4.0},{"t":1982.05,"lo":-4.5,"hi":3.6},{"t":1982.25,"lo":-5.2,"hi":4.5},{"t":1982.45,"lo":-4.6,"hi":3.8},
      {"t":1982.65,"lo":-4.4,"hi":4.0},{"t":1982.85,"lo":-5.1,"hi":3.7},{"t":1983.05,"lo":-4.2,"hi":3.9},{"t":1983.25,"lo":-4.7,"hi":3.5},{"t":1983.45,"lo":-4.3,"hi":4.3},
      {"t":1983.65,"lo":-4.6,"hi":3.7},{"t":1983.85,"lo":-4.4,"hi":3.3},{"t":1984.05,"lo":-4.9,"hi":4.6},{"t":1984.25,"lo":-4.1,"hi":3.8},{"t":1984.45,"lo":-4.8,"hi":3.4},
      {"t":1984.65,"lo":-5.5,"hi":4.4},{"t":1984.85,"lo":-4.7,"hi":3.9},{"t":1985.05,"lo":-4.3,"hi":3.5},{"t":1985.25,"lo":-4.6,"hi":4.1},{"t":1985.45,"lo":-4.4,"hi":3.7},
      {"t":1985.65,"lo":-4.3,"hi":3.5},{"t":1985.85,"lo":-4.5,"hi":4.2},{"t":1986.05,"lo":-4.8,"hi":3.8},{"t":1986.25,"lo":-4.9,"hi":3.6},{"t":1986.45,"lo":-4.2,"hi":4.8},
      {"t":1986.65,"lo":-4.7,"hi":3.9},{"t":1986.85,"lo":-4.2,"hi":3.4},{"t":1987.05,"lo":-4.4,"hi":4.1},{"t":1987.25,"lo":-4.3,"hi":3.9},{"t":1987.45,"lo":-6.0,"hi":3.5},
      {"t":1987.65,"lo":-4.5,"hi":4.1},{"t":1987.85,"lo":-4.8,"hi":3.8},{"t":1988.05,"lo":-4.6,"hi":3.6},{"t":1988.25,"lo":-4.2,"hi":4.4},{"t":1988.45,"lo":-4.7,"hi":3.9},
      {"t":1988.65,"lo":-4.1,"hi":3.6},{"t":1988.85,"lo":-4.4,"hi":4.5},{"t":1989.05,"lo":-5.0,"hi":3.3},{"t":1989.25,"lo":-4.5,"hi":3.7},{"t":1989.45,"lo":-4.3,"hi":4.2},
      {"t":1989.65,"lo":-4.8,"hi":3.8},{"t":1989.85,"lo":-4.6,"hi":3.5},{"t":1990.05,"lo":-4.2,"hi":4.7},{"t":1990.25,"lo":-4.7,"hi":3.4},{"t":1990.45,"lo":-4.9,"hi":4.0},
      {"t":1990.65,"lo":-6.8,"hi":4.3},{"t":1990.85,"lo":-5.2,"hi":3.9},{"t":1991.05,"lo":-4.5,"hi":3.7},{"t":1991.25,"lo":-4.3,"hi":4.2},{"t":1991.45,"lo":-4.6,"hi":3.6},
      {"t":1991.65,"lo":-4.7,"hi":3.7},{"t":1991.85,"lo":-4.3,"hi":4.1},{"t":1992.05,"lo":-4.9,"hi":3.9},{"t":1992.25,"lo":-4.8,"hi":3.5},{"t":1992.45,"lo":-4.4,"hi":4.6},
      {"t":1992.65,"lo":-4.2,"hi":4.0},{"t":1992.85,"lo":-4.7,"hi":3.6},{"t":1993.05,"lo":-4.4,"hi":4.3},{"t":1993.25,"lo":-5.3,"hi":4.0},{"t":1993.45,"lo":-4.5,"hi":3.8},
      {"t":1993.65,"lo":-4.9,"hi":3.9},{"t":1993.85,"lo":-4.5,"hi":4.4},{"t":1994.05,"lo":-4.8,"hi":3.7},{"t":1994.25,"lo":-4.6,"hi":4.1},{"t":1994.45,"lo":-5.0,"hi":4.5},
      {"t":1994.65,"lo":-4.6,"hi":4.2},{"t":1994.85,"lo":-5.1,"hi":3.8},{"t":1995.05,"lo":-4.7,"hi":4.6},{"t":1995.25,"lo":-4.9,"hi":3.9},{"t":1995.45,"lo":-4.8,"hi":4.3},
      {"t":1995.65,"lo":-5.0,"hi":4.5},{"t":1995.85,"lo":-4.8,"hi":4.9},{"t":1996.05,"lo":-5.3,"hi":4.1},{"t":1996.25,"lo":-5.6,"hi":5.8},{"t":1996.45,"lo":-5.2,"hi":4.4},
      {"t":1996.65,"lo":-6.2,"hi":4.6},{"t":1996.85,"lo":-5.4,"hi":6.9},{"t":1997.05,"lo":-5.0,"hi":5.2},{"t":1997.25,"lo":-5.8,"hi":4.3},{"t":1997.45,"lo":-5.5,"hi":5.6},
      {"t":1997.65,"lo":-5.1,"hi":4.4},{"t":1997.85,"lo":-5.7,"hi":5.3},{"t":1998.05,"lo":-5.3,"hi":4.7},{"t":1998.25,"lo":-4.9,"hi":4.2},{"t":1998.45,"lo":-5.4,"hi":5.1},
      {"t":1998.65,"lo":-5.5,"hi":4.8},{"t":1998.85,"lo":-5.0,"hi":4.3},{"t":1999.05,"lo":-5.6,"hi":5.1},{"t":1999.25,"lo":-5.2,"hi":4.5},{"t":1999.45,"lo":-5.8,"hi":4.9},
      {"t":1999.65,"lo":-4.9,"hi":6.7},{"t":1999.85,"lo":-5.3,"hi":5.4},{"t":2000.05,"lo":-5.1,"hi":4.4},{"t":2000.25,"lo":-5.7,"hi":4.7},{"t":2000.45,"lo":-5.0,"hi":4.2},
      {"t":2000.65,"lo":-5.4,"hi":4.6},{"t":2000.85,"lo":-5.1,"hi":4.0},{"t":2001.05,"lo":-5.5,"hi":4.8},{"t":2001.25,"lo":-4.8,"hi":5.5},{"t":2001.45,"lo":-6.1,"hi":4.3},
      {"t":2001.65,"lo":-5.0,"hi":4.3},{"t":2001.85,"lo":-5.2,"hi":4.9},{"t":2002.05,"lo":-4.9,"hi":4.2},{"t":2002.25,"lo":-5.4,"hi":4.6},{"t":2002.45,"lo":-5.3,"hi":5.0},
      {"t":2002.65,"lo":-7.0,"hi":5.6}
    ]
  },
  "vconcat": [
    {
      "width": 813,
      "height": 32,
      "title": {"text": "ZWSPD"},
      "layer": [
        {
          "data": {"name": "wspd"},
          "mark": {"type": "area", "color": "#000", "interpolate": "step"},
          "encoding": {
            "x": {"field": "t", "type": "quantitative", "scale": {"domain": [1955.85, 2004.11], "nice": false, "zero": false}, "axis": {"title": "z$time", "values": [1960, 1970, 1980, 1990, 2000], "format": "d"}},
            "y": {"field": "hi", "type": "quantitative", "scale": {"domain": [-0.9, 13.1], "nice": false, "zero": false}, "axis": {"title": "z$wspd", "values": [0, 2, 4, 6, 8, 10, 12], "labelExpr": "datum.value == 0 || datum.value == 8 ? datum.label : ''"}},
            "y2": {"field": "lo"}
          }
        },
        {
          "data": {"values": [{}]},
          "mark": {"type": "rule", "color": "#000", "strokeWidth": 1},
          "encoding": {"y": {"datum": 13.1, "type": "quantitative", "axis": {"title": "z$wspd", "values": [0, 2, 4, 6, 8, 10, 12], "labelExpr": "datum.value == 0 || datum.value == 8 ? datum.label : ''"}}}
        }
      ]
    },
    {
      "width": 813,
      "height": 32,
      "title": {"text": "Saisonnalité de ZWSPD"},
      "layer": [
        {
          "data": {"name": "seasonal"},
          "mark": {"type": "area", "color": "#000", "interpolate": "linear"},
          "encoding": {
            "x": {"field": "t", "type": "quantitative", "scale": {"domain": [1955.85, 2004.11], "nice": false, "zero": false}, "axis": {"title": "z$time", "values": [1960, 1970, 1980, 1990, 2000], "format": "d"}},
            "y": {"field": "hi", "type": "quantitative", "scale": {"domain": [-2.63, 1.68], "nice": false, "zero": false}, "axis": {"title": "seasonalZ", "values": [-2, -1.5, -1, -0.5, 0, 0.5, 1, 1.5], "labelExpr": "datum.value == -2 ? '-2.0' : datum.value == 1.5 ? '1.5' : ''"}},
            "y2": {"field": "lo"}
          }
        },
        {
          "data": {"values": [{}]},
          "mark": {"type": "rule", "color": "#000", "strokeWidth": 1},
          "encoding": {"y": {"datum": 1.68, "type": "quantitative", "axis": {"title": "seasonalZ", "values": [-2, -1.5, -1, -0.5, 0, 0.5, 1, 1.5], "labelExpr": "datum.value == -2 ? '-2.0' : datum.value == 1.5 ? '1.5' : ''"}}}
        }
      ]
    },
    {
      "width": 813,
      "height": 32,
      "title": {"text": "Reste de ZWSPD"},
      "layer": [
        {
          "data": {"name": "remainder"},
          "mark": {"type": "area", "color": "#000", "interpolate": "step"},
          "encoding": {
            "x": {"field": "t", "type": "quantitative", "scale": {"domain": [1955.85, 2004.11], "nice": false, "zero": false}, "axis": {"title": "z$time", "values": [1960, 1970, 1980, 1990, 2000], "format": "d"}},
            "y": {"field": "hi", "type": "quantitative", "scale": {"domain": [-7.44, 7.14], "nice": false, "zero": false}, "axis": {"title": "remainderZ", "values": [-6, -4, -2, 0, 2, 4, 6], "labelExpr": "datum.value == -6 ? '-6' : datum.value == 2 ? '2' : ''"}},
            "y2": {"field": "lo"}
          }
        },
        {
          "data": {"values": [{}]},
          "mark": {"type": "rule", "color": "#000", "strokeWidth": 1},
          "encoding": {"y": {"datum": 7.14, "type": "quantitative", "axis": {"title": "remainderZ", "values": [-6, -4, -2, 0, 2, 4, 6], "labelExpr": "datum.value == -6 ? '-6' : datum.value == 2 ? '2' : ''"}}}
        }
      ]
    }
  ],
  "spacing": 132,
  "bounds": "flush",
  "config": {
    "font": "Liberation Sans",
    "view": {"stroke": null},
    "axis": {
      "grid": false,
      "domainColor": "#000",
      "domainWidth": 1,
      "tickColor": "#000",
      "tickWidth": 1,
      "tickSize": 7,
      "labelColor": "#000",
      "labelFont": "Liberation Sans",
      "labelFontSize": 11.5,
      "labelOverlap": false,
      "labelFlush": false,
      "labelBound": false,
      "titleColor": "#000",
      "titleFont": "Liberation Sans",
      "titleFontSize": 11.5,
      "titleFontWeight": "normal"
    },
    "axisX": {
      "labelAngle": 0,
      "labelAlign": "center",
      "labelBaseline": "middle",
      "labelPadding": 12,
      "titleX": 409,
      "titleY": 50,
      "titleAlign": "center",
      "titleBaseline": "middle"
    },
    "axisY": {
      "labelAngle": -90,
      "labelAlign": "center",
      "labelBaseline": "middle",
      "labelPadding": 15,
      "titleAngle": -90,
      "titleX": -47,
      "titleY": 16,
      "titleAlign": "center",
      "titleBaseline": "middle"
    },
    "title": {
      "font": "Liberation Sans",
      "fontSize": 15,
      "fontWeight": "bold",
      "color": "#000",
      "anchor": "middle",
      "baseline": "alphabetic",
      "offset": 17,
      "dx": 2.5
    }
  }
}
